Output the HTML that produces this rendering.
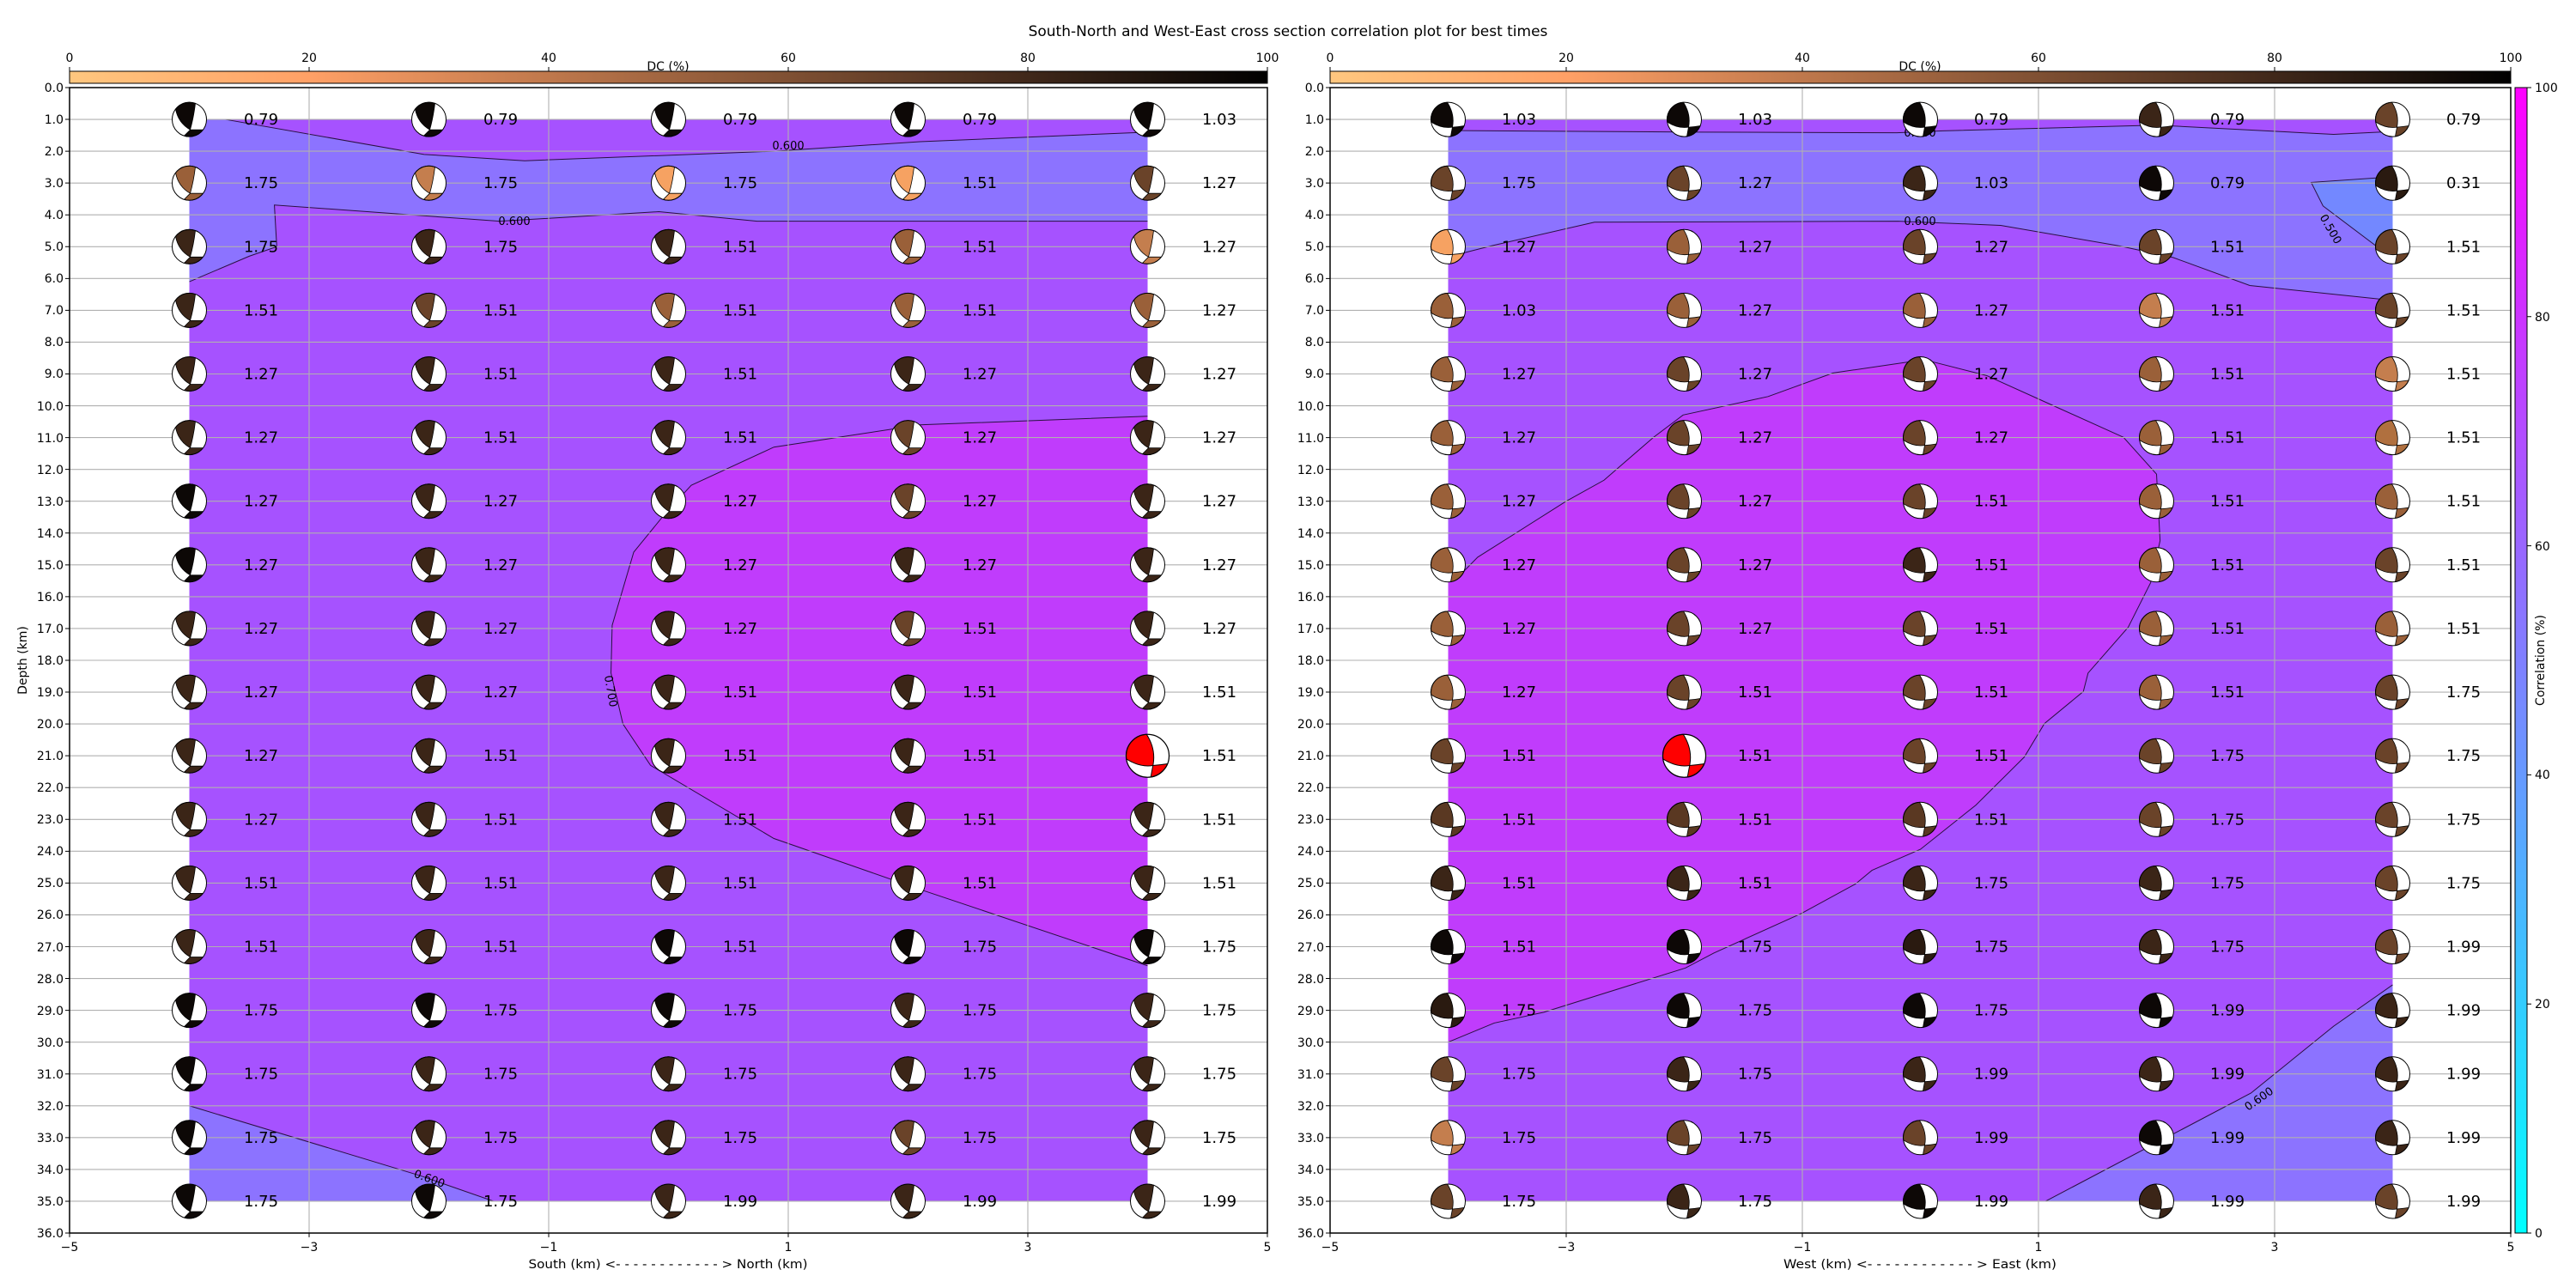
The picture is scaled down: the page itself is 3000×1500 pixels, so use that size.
<!DOCTYPE html>
<html><head><meta charset="utf-8"><style>html,body{margin:0;padding:0;background:#fff}svg{display:block}</style></head>
<body>
<svg xmlns="http://www.w3.org/2000/svg" xmlns:xlink="http://www.w3.org/1999/xlink" width="3000" height="1500" viewBox="0 0 3000 1500" font-family="DejaVu Sans, Liberation Sans, sans-serif">
<defs>
<linearGradient id="cop" x1="0" x2="1" y1="0" y2="0">
<stop offset="0" stop-color="#ffc77f"/><stop offset="0.2" stop-color="#ffa066"/><stop offset="0.4" stop-color="#bf784c"/><stop offset="0.6" stop-color="#7f5033"/><stop offset="0.8" stop-color="#40281a"/><stop offset="1" stop-color="#000"/>
</linearGradient>
<linearGradient id="cool" x1="0" x2="0" y1="0" y2="1">
<stop offset="0" stop-color="#ff00ff"/><stop offset="1" stop-color="#00ffff"/>
</linearGradient>
<g id="bl">
<circle r="20" fill="#fff"/>
<path fill="currentColor" stroke="#000" stroke-width="0.8" d="M-16,-12 A20,20 0 0 1 7,-18.7 Q5,-2 1,12 Q-13,4 -16,-12Z"/>
<path fill="currentColor" stroke="#000" stroke-width="0.8" d="M1,12 Q9,12 16,12 A20,20 0 0 1 -6,19.1 Q-2,15 1,12Z"/>
<circle r="20" fill="none" stroke="#000" stroke-width="1"/>
</g>
<g id="br">
<circle r="20" fill="#fff"/>
<path fill="currentColor" stroke="#000" stroke-width="0.8" d="M-19.8,3 A20,20 0 0 1 -1,-20 Q8,-6 5,9 Q-7,11 -19.8,3Z"/>
<path fill="currentColor" stroke="#000" stroke-width="0.8" d="M5,9 Q12,8.5 18.6,7.4 A20,20 0 0 1 3,19.8 Q4,14 5,9Z"/>
<circle r="20" fill="none" stroke="#000" stroke-width="1"/>
</g>
</defs>

<text x="1500" y="42" font-size="17" text-anchor="middle">South-North and West-East cross section correlation plot for best times</text>

<rect x="81" y="83" width="1395" height="14" fill="url(#cop)" stroke="#000" stroke-width="1"/>
<rect x="1549" y="83" width="1375" height="14" fill="url(#cop)" stroke="#000" stroke-width="1"/>
<g stroke="#000" stroke-width="1">
<path d="M81 83V78M360 83V78M639 83V78M918 83V78M1197 83V78M1476 83V78"/>
<path d="M1549 83V78M1824 83V78M2099 83V78M2374 83V78M2649 83V78M2924 83V78"/>
</g>
<g font-size="14" text-anchor="middle">
<text x="81" y="72">0</text><text x="360" y="72">20</text><text x="639" y="72">40</text><text x="918" y="72">60</text><text x="1197" y="72">80</text><text x="1476" y="72">100</text>
<text x="1549" y="72">0</text><text x="1824" y="72">20</text><text x="2099" y="72">40</text><text x="2374" y="72">60</text><text x="2649" y="72">80</text><text x="2924" y="72">100</text>
<text x="778" y="82">DC (%)</text><text x="2236" y="82">DC (%)</text>
</g>

<rect x="2929" y="102" width="14" height="1334" fill="url(#cool)" stroke="#000" stroke-width="1"/>
<path stroke="#000" stroke-width="1" d="M2943 102H2948M2943 368.8H2948M2943 635.6H2948M2943 902.4H2948M2943 1169.2H2948M2943 1436H2948"/>
<g font-size="14">
<text x="2952" y="107">100</text><text x="2952" y="374">80</text><text x="2952" y="641">60</text><text x="2952" y="907">40</text><text x="2952" y="1174">20</text><text x="2952" y="1441">0</text>
</g>
<text transform="translate(2963,769) rotate(-90)" font-size="14" text-anchor="middle">Correlation (%)</text>

<svg x="81" y="102" width="1395" height="1334" viewBox="-5 0 10 36" preserveAspectRatio="none" style="overflow:visible">
<rect x="-4" y="1" width="8" height="34" fill="#a652ff"/>
<polygon fill="#8c73ff" points="-4,1 -3.7,1 -2.04,2.1 -1.2,2.3 0.88,2.0 2.1,1.7 4,1.4 4,4.2 0.74,4.2 -0.08,3.9 -1.41,4.2 -3.29,3.69 -3.27,5.0 -3.5,5.3 -4,6.1"/>
<polygon fill="#8c73ff" points="-4,32 -2.07,34.2 -1.46,35 -4,35"/>
<polygon fill="#c03cfc" points="4,10.33 2.1,10.6 0.88,11.3 0.19,12.5 -0.03,13.4 -0.29,14.6 -0.47,16.9 -0.48,18.4 -0.38,20.0 -0.15,21.3 0.88,23.6 2.1,25.2 4,27.6"/>
<g fill="none" stroke="#2a1040" stroke-width="1">
<polyline vector-effect="non-scaling-stroke" points="-3.7,1 -2.04,2.1 -1.2,2.3 0.88,2.0 2.1,1.7 4,1.4"/>
<polyline vector-effect="non-scaling-stroke" points="4,4.2 0.74,4.2 -0.08,3.9 -1.41,4.2 -3.29,3.69 -3.27,5.0 -3.5,5.3 -4,6.1"/>
<polyline vector-effect="non-scaling-stroke" points="-4,32 -2.07,34.2 -1.46,35"/>
<polyline vector-effect="non-scaling-stroke" points="4,10.33 2.1,10.6 0.88,11.3 0.19,12.5 -0.03,13.4 -0.29,14.6 -0.47,16.9 -0.48,18.4 -0.38,20.0 -0.15,21.3 0.88,23.6 2.1,25.2 4,27.6"/>
</g>
<path fill="none" stroke="#b0b0b0" stroke-width="1.1" vector-effect="non-scaling-stroke" d="M-5 1H5M-5 2H5M-5 3H5M-5 4H5M-5 5H5M-5 6H5M-5 7H5M-5 8H5M-5 9H5M-5 10H5M-5 11H5M-5 12H5M-5 13H5M-5 14H5M-5 15H5M-5 16H5M-5 17H5M-5 18H5M-5 19H5M-5 20H5M-5 21H5M-5 22H5M-5 23H5M-5 24H5M-5 25H5M-5 26H5M-5 27H5M-5 28H5M-5 29H5M-5 30H5M-5 31H5M-5 32H5M-5 33H5M-5 34H5M-5 35H5M-3 0V36M-1 0V36M1 0V36M3 0V36"/>
<path fill="none" stroke="#000" stroke-width="1" vector-effect="non-scaling-stroke" d="M-5.036 0H-5M-5.036 1H-5M-5.036 2H-5M-5.036 3H-5M-5.036 4H-5M-5.036 5H-5M-5.036 6H-5M-5.036 7H-5M-5.036 8H-5M-5.036 9H-5M-5.036 10H-5M-5.036 11H-5M-5.036 12H-5M-5.036 13H-5M-5.036 14H-5M-5.036 15H-5M-5.036 16H-5M-5.036 17H-5M-5.036 18H-5M-5.036 19H-5M-5.036 20H-5M-5.036 21H-5M-5.036 22H-5M-5.036 23H-5M-5.036 24H-5M-5.036 25H-5M-5.036 26H-5M-5.036 27H-5M-5.036 28H-5M-5.036 29H-5M-5.036 30H-5M-5.036 31H-5M-5.036 32H-5M-5.036 33H-5M-5.036 34H-5M-5.036 35H-5M-5.036 36H-5M-5 36V36.13M-3 36V36.13M-1 36V36.13M1 36V36.13M3 36V36.13M5 36V36.13"/>
</svg>
<rect x="81" y="102" width="1395" height="1334" fill="none" stroke="#000" stroke-width="1.5"/>

<svg x="1549" y="102" width="1375" height="1334" viewBox="-5 0 10 36" preserveAspectRatio="none" style="overflow:visible">
<rect x="-4" y="1" width="8" height="34" fill="#a652ff"/>
<polygon fill="#8c73ff" points="-4,1.35 -1.88,1.40 -0.2,1.42 0.19,1.36 2,1.18 3.5,1.47 4,1.38 4,6.69 2.79,6.22 2.14,5.34 1.69,4.98 0.68,4.33 -0.19,4.2 -2.76,4.23 -3.64,4.98 -4,5.32"/>
<polygon fill="#7388ff" points="3.31,2.98 3.86,2.84 4,2.84 4,4.98 3.86,4.98 3.41,3.72"/>
<polygon fill="#8c73ff" points="1.06,35 2.8,31.6 3.5,29.5 4,28.2 4,35"/>
<polygon fill="#c03cfc" points="-4,30.0 -3.61,29.4 -3.19,29.06 -1.99,27.67 -1.75,27.2 -1.01,25.96 -0.55,25.03 -0.41,24.6 0,23.94 0.47,22.55 0.88,21.04 1.05,19.99 1.38,18.98 1.42,18.4 1.76,16.96 1.95,15.56 2.03,14.24 2.0,12.15 1.72,10.99 1.02,9.82 0.56,9.05 0.03,8.55 -0.74,8.97 -1.29,9.71 -2.01,10.29 -2.26,10.99 -2.68,12.34 -3.0,13.0 -3.75,14.76 -3.88,15.25 -4,15.3"/>
<g fill="none" stroke="#2a1040" stroke-width="1">
<polyline vector-effect="non-scaling-stroke" points="-4,1.35 -1.88,1.40 -0.2,1.42 0.19,1.36 2,1.18 3.5,1.47 4,1.38"/>
<polyline vector-effect="non-scaling-stroke" points="4,6.69 2.79,6.22 2.14,5.34 1.69,4.98 0.68,4.33 -0.19,4.2 -2.76,4.23 -3.64,4.98 -4,5.32"/>
<polyline vector-effect="non-scaling-stroke" points="3.86,2.84 3.31,2.98 3.41,3.72 3.86,4.98"/>
<polyline vector-effect="non-scaling-stroke" points="1.06,35 2.8,31.6 3.5,29.5 4,28.2"/>
<polyline vector-effect="non-scaling-stroke" points="-4,30.0 -3.61,29.4 -3.19,29.06 -1.99,27.67 -1.75,27.2 -1.01,25.96 -0.55,25.03 -0.41,24.6 0,23.94 0.47,22.55 0.88,21.04 1.05,19.99 1.38,18.98 1.42,18.4 1.76,16.96 1.95,15.56 2.03,14.24 2.0,12.15 1.72,10.99 1.02,9.82 0.56,9.05 0.03,8.55 -0.74,8.97 -1.29,9.71 -2.01,10.29 -2.26,10.99 -2.68,12.34 -3.0,13.0 -3.75,14.76 -3.88,15.25 -4,15.3"/>
</g>
<path fill="none" stroke="#b0b0b0" stroke-width="1.1" vector-effect="non-scaling-stroke" d="M-5 1H5M-5 2H5M-5 3H5M-5 4H5M-5 5H5M-5 6H5M-5 7H5M-5 8H5M-5 9H5M-5 10H5M-5 11H5M-5 12H5M-5 13H5M-5 14H5M-5 15H5M-5 16H5M-5 17H5M-5 18H5M-5 19H5M-5 20H5M-5 21H5M-5 22H5M-5 23H5M-5 24H5M-5 25H5M-5 26H5M-5 27H5M-5 28H5M-5 29H5M-5 30H5M-5 31H5M-5 32H5M-5 33H5M-5 34H5M-5 35H5M-3 0V36M-1 0V36M1 0V36M3 0V36"/>
<path fill="none" stroke="#000" stroke-width="1" vector-effect="non-scaling-stroke" d="M-5.036 0H-5M-5.036 1H-5M-5.036 2H-5M-5.036 3H-5M-5.036 4H-5M-5.036 5H-5M-5.036 6H-5M-5.036 7H-5M-5.036 8H-5M-5.036 9H-5M-5.036 10H-5M-5.036 11H-5M-5.036 12H-5M-5.036 13H-5M-5.036 14H-5M-5.036 15H-5M-5.036 16H-5M-5.036 17H-5M-5.036 18H-5M-5.036 19H-5M-5.036 20H-5M-5.036 21H-5M-5.036 22H-5M-5.036 23H-5M-5.036 24H-5M-5.036 25H-5M-5.036 26H-5M-5.036 27H-5M-5.036 28H-5M-5.036 29H-5M-5.036 30H-5M-5.036 31H-5M-5.036 32H-5M-5.036 33H-5M-5.036 34H-5M-5.036 35H-5M-5.036 36H-5M-5 36V36.13M-3 36V36.13M-1 36V36.13M1 36V36.13M3 36V36.13M5 36V36.13"/>
</svg>
<rect x="1549" y="102" width="1375" height="1334" fill="none" stroke="#000" stroke-width="1.5"/>

<g font-size="13" text-anchor="middle" fill="#000">
<text x="918" y="174">0.600</text>
<text x="599" y="262">0.600</text>
<text transform="translate(711,805) rotate(80)" y="4">0.700</text>
<text transform="translate(500,1373) rotate(20)" y="4">0.600</text>
<text x="2236" y="159">0.600</text>
<text x="2236" y="262">0.600</text>
<text transform="translate(2714,267) rotate(60)" y="4">0.500</text>
<text transform="translate(2631,1280) rotate(-35)" y="4">0.600</text>
</g>

<g font-size="14" text-anchor="end">
<text x="74" y="107">0.0</text><text x="74" y="144">1.0</text><text x="74" y="181">2.0</text><text x="74" y="218">3.0</text><text x="74" y="255">4.0</text><text x="74" y="292">5.0</text><text x="74" y="329">6.0</text><text x="74" y="366">7.0</text><text x="74" y="403">8.0</text><text x="74" y="440">9.0</text><text x="74" y="478">10.0</text><text x="74" y="515">11.0</text><text x="74" y="552">12.0</text><text x="74" y="589">13.0</text><text x="74" y="626">14.0</text><text x="74" y="663">15.0</text><text x="74" y="700">16.0</text><text x="74" y="737">17.0</text><text x="74" y="774">18.0</text><text x="74" y="811">19.0</text><text x="74" y="848">20.0</text><text x="74" y="885">21.0</text><text x="74" y="922">22.0</text><text x="74" y="959">23.0</text><text x="74" y="996">24.0</text><text x="74" y="1033">25.0</text><text x="74" y="1070">26.0</text><text x="74" y="1108">27.0</text><text x="74" y="1145">28.0</text><text x="74" y="1182">29.0</text><text x="74" y="1219">30.0</text><text x="74" y="1256">31.0</text><text x="74" y="1293">32.0</text><text x="74" y="1330">33.0</text><text x="74" y="1367">34.0</text><text x="74" y="1404">35.0</text><text x="74" y="1441">36.0</text>
</g>
<g font-size="14" text-anchor="end">
<text x="1542" y="107">0.0</text><text x="1542" y="144">1.0</text><text x="1542" y="181">2.0</text><text x="1542" y="218">3.0</text><text x="1542" y="255">4.0</text><text x="1542" y="292">5.0</text><text x="1542" y="329">6.0</text><text x="1542" y="366">7.0</text><text x="1542" y="403">8.0</text><text x="1542" y="440">9.0</text><text x="1542" y="478">10.0</text><text x="1542" y="515">11.0</text><text x="1542" y="552">12.0</text><text x="1542" y="589">13.0</text><text x="1542" y="626">14.0</text><text x="1542" y="663">15.0</text><text x="1542" y="700">16.0</text><text x="1542" y="737">17.0</text><text x="1542" y="774">18.0</text><text x="1542" y="811">19.0</text><text x="1542" y="848">20.0</text><text x="1542" y="885">21.0</text><text x="1542" y="922">22.0</text><text x="1542" y="959">23.0</text><text x="1542" y="996">24.0</text><text x="1542" y="1033">25.0</text><text x="1542" y="1070">26.0</text><text x="1542" y="1108">27.0</text><text x="1542" y="1145">28.0</text><text x="1542" y="1182">29.0</text><text x="1542" y="1219">30.0</text><text x="1542" y="1256">31.0</text><text x="1542" y="1293">32.0</text><text x="1542" y="1330">33.0</text><text x="1542" y="1367">34.0</text><text x="1542" y="1404">35.0</text><text x="1542" y="1441">36.0</text>
</g>

<g font-size="14" text-anchor="middle">
<text x="81" y="1457">−5</text><text x="360" y="1457">−3</text><text x="639" y="1457">−1</text><text x="918" y="1457">1</text><text x="1197" y="1457">3</text><text x="1476" y="1457">5</text>
<text x="1549" y="1457">−5</text><text x="1824" y="1457">−3</text><text x="2099" y="1457">−1</text><text x="2374" y="1457">1</text><text x="2649" y="1457">3</text><text x="2924" y="1457">5</text>
<text x="778" y="1477" textLength="325" lengthAdjust="spacingAndGlyphs">South (km) &lt;- - - - - - - - - - - - &gt; North (km)</text>
<text x="2236" y="1477" textLength="318" lengthAdjust="spacingAndGlyphs">West (km) &lt;- - - - - - - - - - - - &gt; East (km)</text>
</g>
<text transform="translate(31,769) rotate(-90)" font-size="14" text-anchor="middle">Depth (km)</text>

<g font-size="18" text-anchor="middle">
<g transform="translate(0,139.1)"><use href="#bl" x="220.5" color="#0d0806"/><use href="#bl" x="499.5" color="#0d0806"/><use href="#bl" x="778.5" color="#0d0806"/><use href="#bl" x="1057.5" color="#0d0806"/><use href="#bl" x="1336.5" color="#0d0806"/><text x="304" y="6">0.79</text><text x="583" y="6">0.79</text><text x="862" y="6">0.79</text><text x="1141" y="6">0.79</text><text x="1420" y="6">1.03</text></g>
<g transform="translate(0,213.2)"><use href="#bl" x="220.5" color="#9a6039"/><use href="#bl" x="499.5" color="#c47e4e"/><use href="#bl" x="778.5" color="#f6a262"/><use href="#bl" x="1057.5" color="#f6a262"/><use href="#bl" x="1336.5" color="#6a4329"/><text x="304" y="6">1.75</text><text x="583" y="6">1.75</text><text x="862" y="6">1.75</text><text x="1141" y="6">1.51</text><text x="1420" y="6">1.27</text></g>
<g transform="translate(0,287.3)"><use href="#bl" x="220.5" color="#3b2517"/><use href="#bl" x="499.5" color="#3b2517"/><use href="#bl" x="778.5" color="#3b2517"/><use href="#bl" x="1057.5" color="#9a6039"/><use href="#bl" x="1336.5" color="#c47e4e"/><text x="304" y="6">1.75</text><text x="583" y="6">1.75</text><text x="862" y="6">1.51</text><text x="1141" y="6">1.51</text><text x="1420" y="6">1.27</text></g>
<g transform="translate(0,361.4)"><use href="#bl" x="220.5" color="#3b2517"/><use href="#bl" x="499.5" color="#6a4329"/><use href="#bl" x="778.5" color="#9a6039"/><use href="#bl" x="1057.5" color="#9a6039"/><use href="#bl" x="1336.5" color="#9a6039"/><text x="304" y="6">1.51</text><text x="583" y="6">1.51</text><text x="862" y="6">1.51</text><text x="1141" y="6">1.51</text><text x="1420" y="6">1.27</text></g>
<g transform="translate(0,435.5)"><use href="#bl" x="220.5" color="#3b2517"/><use href="#bl" x="499.5" color="#3b2517"/><use href="#bl" x="778.5" color="#3b2517"/><use href="#bl" x="1057.5" color="#3b2517"/><use href="#bl" x="1336.5" color="#3b2517"/><text x="304" y="6">1.27</text><text x="583" y="6">1.51</text><text x="862" y="6">1.51</text><text x="1141" y="6">1.27</text><text x="1420" y="6">1.27</text></g>
<g transform="translate(0,509.6)"><use href="#bl" x="220.5" color="#3b2517"/><use href="#bl" x="499.5" color="#3b2517"/><use href="#bl" x="778.5" color="#3b2517"/><use href="#bl" x="1057.5" color="#6a4329"/><use href="#bl" x="1336.5" color="#3b2517"/><text x="304" y="6">1.27</text><text x="583" y="6">1.51</text><text x="862" y="6">1.51</text><text x="1141" y="6">1.27</text><text x="1420" y="6">1.27</text></g>
<g transform="translate(0,583.7)"><use href="#bl" x="220.5" color="#0d0806"/><use href="#bl" x="499.5" color="#3b2517"/><use href="#bl" x="778.5" color="#3b2517"/><use href="#bl" x="1057.5" color="#6a4329"/><use href="#bl" x="1336.5" color="#3b2517"/><text x="304" y="6">1.27</text><text x="583" y="6">1.27</text><text x="862" y="6">1.27</text><text x="1141" y="6">1.27</text><text x="1420" y="6">1.27</text></g>
<g transform="translate(0,657.8)"><use href="#bl" x="220.5" color="#0d0806"/><use href="#bl" x="499.5" color="#3b2517"/><use href="#bl" x="778.5" color="#3b2517"/><use href="#bl" x="1057.5" color="#3b2517"/><use href="#bl" x="1336.5" color="#3b2517"/><text x="304" y="6">1.27</text><text x="583" y="6">1.27</text><text x="862" y="6">1.27</text><text x="1141" y="6">1.27</text><text x="1420" y="6">1.27</text></g>
<g transform="translate(0,731.9)"><use href="#bl" x="220.5" color="#3b2517"/><use href="#bl" x="499.5" color="#3b2517"/><use href="#bl" x="778.5" color="#3b2517"/><use href="#bl" x="1057.5" color="#6a4329"/><use href="#bl" x="1336.5" color="#3b2517"/><text x="304" y="6">1.27</text><text x="583" y="6">1.27</text><text x="862" y="6">1.27</text><text x="1141" y="6">1.51</text><text x="1420" y="6">1.27</text></g>
<g transform="translate(0,806.1)"><use href="#bl" x="220.5" color="#3b2517"/><use href="#bl" x="499.5" color="#3b2517"/><use href="#bl" x="778.5" color="#3b2517"/><use href="#bl" x="1057.5" color="#3b2517"/><use href="#bl" x="1336.5" color="#3b2517"/><text x="304" y="6">1.27</text><text x="583" y="6">1.27</text><text x="862" y="6">1.51</text><text x="1141" y="6">1.51</text><text x="1420" y="6">1.51</text></g>
<g transform="translate(0,880.2)"><use href="#bl" x="220.5" color="#3b2517"/><use href="#bl" x="499.5" color="#3b2517"/><use href="#bl" x="778.5" color="#3b2517"/><use href="#bl" x="1057.5" color="#3b2517"/><use href="#br" transform="translate(1336.5,0) scale(1.25)" color="#ff0000"/><text x="304" y="6">1.27</text><text x="583" y="6">1.51</text><text x="862" y="6">1.51</text><text x="1141" y="6">1.51</text><text x="1420" y="6">1.51</text></g>
<g transform="translate(0,954.3)"><use href="#bl" x="220.5" color="#3b2517"/><use href="#bl" x="499.5" color="#3b2517"/><use href="#bl" x="778.5" color="#3b2517"/><use href="#bl" x="1057.5" color="#3b2517"/><use href="#bl" x="1336.5" color="#3b2517"/><text x="304" y="6">1.27</text><text x="583" y="6">1.51</text><text x="862" y="6">1.51</text><text x="1141" y="6">1.51</text><text x="1420" y="6">1.51</text></g>
<g transform="translate(0,1028.4)"><use href="#bl" x="220.5" color="#3b2517"/><use href="#bl" x="499.5" color="#3b2517"/><use href="#bl" x="778.5" color="#3b2517"/><use href="#bl" x="1057.5" color="#3b2517"/><use href="#bl" x="1336.5" color="#3b2517"/><text x="304" y="6">1.51</text><text x="583" y="6">1.51</text><text x="862" y="6">1.51</text><text x="1141" y="6">1.51</text><text x="1420" y="6">1.51</text></g>
<g transform="translate(0,1102.5)"><use href="#bl" x="220.5" color="#3b2517"/><use href="#bl" x="499.5" color="#3b2517"/><use href="#bl" x="778.5" color="#0d0806"/><use href="#bl" x="1057.5" color="#0d0806"/><use href="#bl" x="1336.5" color="#0d0806"/><text x="304" y="6">1.51</text><text x="583" y="6">1.51</text><text x="862" y="6">1.51</text><text x="1141" y="6">1.75</text><text x="1420" y="6">1.75</text></g>
<g transform="translate(0,1176.6)"><use href="#bl" x="220.5" color="#0d0806"/><use href="#bl" x="499.5" color="#0d0806"/><use href="#bl" x="778.5" color="#0d0806"/><use href="#bl" x="1057.5" color="#3b2517"/><use href="#bl" x="1336.5" color="#3b2517"/><text x="304" y="6">1.75</text><text x="583" y="6">1.75</text><text x="862" y="6">1.75</text><text x="1141" y="6">1.75</text><text x="1420" y="6">1.75</text></g>
<g transform="translate(0,1250.7)"><use href="#bl" x="220.5" color="#0d0806"/><use href="#bl" x="499.5" color="#3b2517"/><use href="#bl" x="778.5" color="#3b2517"/><use href="#bl" x="1057.5" color="#3b2517"/><use href="#bl" x="1336.5" color="#3b2517"/><text x="304" y="6">1.75</text><text x="583" y="6">1.75</text><text x="862" y="6">1.75</text><text x="1141" y="6">1.75</text><text x="1420" y="6">1.75</text></g>
<g transform="translate(0,1324.8)"><use href="#bl" x="220.5" color="#0d0806"/><use href="#bl" x="499.5" color="#3b2517"/><use href="#bl" x="778.5" color="#3b2517"/><use href="#bl" x="1057.5" color="#6a4329"/><use href="#bl" x="1336.5" color="#3b2517"/><text x="304" y="6">1.75</text><text x="583" y="6">1.75</text><text x="862" y="6">1.75</text><text x="1141" y="6">1.75</text><text x="1420" y="6">1.75</text></g>
<g transform="translate(0,1399)"><use href="#bl" x="220.5" color="#0d0806"/><use href="#bl" x="499.5" color="#0d0806"/><use href="#bl" x="778.5" color="#3b2517"/><use href="#bl" x="1057.5" color="#3b2517"/><use href="#bl" x="1336.5" color="#3b2517"/><text x="304" y="6">1.75</text><text x="583" y="6">1.75</text><text x="862" y="6">1.99</text><text x="1141" y="6">1.99</text><text x="1420" y="6">1.99</text></g>
</g>

<g font-size="18" text-anchor="middle">
<g transform="translate(0,139.1)"><use href="#br" x="1686.5" color="#0d0806"/><use href="#br" x="1961.5" color="#0d0806"/><use href="#br" x="2236.5" color="#0d0806"/><use href="#br" x="2511.5" color="#3b2517"/><use href="#br" x="2786.5" color="#6a4329"/><text x="1769" y="6">1.03</text><text x="2044" y="6">1.03</text><text x="2319" y="6">0.79</text><text x="2594" y="6">0.79</text><text x="2869" y="6">0.79</text></g>
<g transform="translate(0,213.2)"><use href="#br" x="1686.5" color="#6a4329"/><use href="#br" x="1961.5" color="#6a4329"/><use href="#br" x="2236.5" color="#3b2517"/><use href="#br" x="2511.5" color="#0d0806"/><use href="#br" x="2786.5" color="#2a1a10"/><text x="1769" y="6">1.75</text><text x="2044" y="6">1.27</text><text x="2319" y="6">1.03</text><text x="2594" y="6">0.79</text><text x="2869" y="6">0.31</text></g>
<g transform="translate(0,287.3)"><use href="#br" x="1686.5" color="#f6a262"/><use href="#br" x="1961.5" color="#9a6039"/><use href="#br" x="2236.5" color="#6a4329"/><use href="#br" x="2511.5" color="#6a4329"/><use href="#br" x="2786.5" color="#6a4329"/><text x="1769" y="6">1.27</text><text x="2044" y="6">1.27</text><text x="2319" y="6">1.27</text><text x="2594" y="6">1.51</text><text x="2869" y="6">1.51</text></g>
<g transform="translate(0,361.4)"><use href="#br" x="1686.5" color="#9a6039"/><use href="#br" x="1961.5" color="#9a6039"/><use href="#br" x="2236.5" color="#9a6039"/><use href="#br" x="2511.5" color="#c47e4e"/><use href="#br" x="2786.5" color="#6a4329"/><text x="1769" y="6">1.03</text><text x="2044" y="6">1.27</text><text x="2319" y="6">1.27</text><text x="2594" y="6">1.51</text><text x="2869" y="6">1.51</text></g>
<g transform="translate(0,435.5)"><use href="#br" x="1686.5" color="#9a6039"/><use href="#br" x="1961.5" color="#6a4329"/><use href="#br" x="2236.5" color="#6a4329"/><use href="#br" x="2511.5" color="#9a6039"/><use href="#br" x="2786.5" color="#c47e4e"/><text x="1769" y="6">1.27</text><text x="2044" y="6">1.27</text><text x="2319" y="6">1.27</text><text x="2594" y="6">1.51</text><text x="2869" y="6">1.51</text></g>
<g transform="translate(0,509.6)"><use href="#br" x="1686.5" color="#9a6039"/><use href="#br" x="1961.5" color="#6a4329"/><use href="#br" x="2236.5" color="#6a4329"/><use href="#br" x="2511.5" color="#9a6039"/><use href="#br" x="2786.5" color="#b0703f"/><text x="1769" y="6">1.27</text><text x="2044" y="6">1.27</text><text x="2319" y="6">1.27</text><text x="2594" y="6">1.51</text><text x="2869" y="6">1.51</text></g>
<g transform="translate(0,583.7)"><use href="#br" x="1686.5" color="#9a6039"/><use href="#br" x="1961.5" color="#6a4329"/><use href="#br" x="2236.5" color="#6a4329"/><use href="#br" x="2511.5" color="#9a6039"/><use href="#br" x="2786.5" color="#9a6039"/><text x="1769" y="6">1.27</text><text x="2044" y="6">1.27</text><text x="2319" y="6">1.51</text><text x="2594" y="6">1.51</text><text x="2869" y="6">1.51</text></g>
<g transform="translate(0,657.8)"><use href="#br" x="1686.5" color="#9a6039"/><use href="#br" x="1961.5" color="#6a4329"/><use href="#br" x="2236.5" color="#3b2517"/><use href="#br" x="2511.5" color="#9a6039"/><use href="#br" x="2786.5" color="#6a4329"/><text x="1769" y="6">1.27</text><text x="2044" y="6">1.27</text><text x="2319" y="6">1.51</text><text x="2594" y="6">1.51</text><text x="2869" y="6">1.51</text></g>
<g transform="translate(0,731.9)"><use href="#br" x="1686.5" color="#9a6039"/><use href="#br" x="1961.5" color="#6a4329"/><use href="#br" x="2236.5" color="#6a4329"/><use href="#br" x="2511.5" color="#9a6039"/><use href="#br" x="2786.5" color="#9a6039"/><text x="1769" y="6">1.27</text><text x="2044" y="6">1.27</text><text x="2319" y="6">1.51</text><text x="2594" y="6">1.51</text><text x="2869" y="6">1.51</text></g>
<g transform="translate(0,806.1)"><use href="#br" x="1686.5" color="#9a6039"/><use href="#br" x="1961.5" color="#6a4329"/><use href="#br" x="2236.5" color="#6a4329"/><use href="#br" x="2511.5" color="#9a6039"/><use href="#br" x="2786.5" color="#6a4329"/><text x="1769" y="6">1.27</text><text x="2044" y="6">1.51</text><text x="2319" y="6">1.51</text><text x="2594" y="6">1.51</text><text x="2869" y="6">1.75</text></g>
<g transform="translate(0,880.2)"><use href="#br" x="1686.5" color="#6a4329"/><use href="#br" transform="translate(1961.5,0) scale(1.25)" color="#ff0000"/><use href="#br" x="2236.5" color="#6a4329"/><use href="#br" x="2511.5" color="#6a4329"/><use href="#br" x="2786.5" color="#6a4329"/><text x="1769" y="6">1.51</text><text x="2044" y="6">1.51</text><text x="2319" y="6">1.51</text><text x="2594" y="6">1.75</text><text x="2869" y="6">1.75</text></g>
<g transform="translate(0,954.3)"><use href="#br" x="1686.5" color="#5a3822"/><use href="#br" x="1961.5" color="#5a3822"/><use href="#br" x="2236.5" color="#5a3822"/><use href="#br" x="2511.5" color="#6a4329"/><use href="#br" x="2786.5" color="#6a4329"/><text x="1769" y="6">1.51</text><text x="2044" y="6">1.51</text><text x="2319" y="6">1.51</text><text x="2594" y="6">1.75</text><text x="2869" y="6">1.75</text></g>
<g transform="translate(0,1028.4)"><use href="#br" x="1686.5" color="#3b2517"/><use href="#br" x="1961.5" color="#3b2517"/><use href="#br" x="2236.5" color="#3b2517"/><use href="#br" x="2511.5" color="#3b2517"/><use href="#br" x="2786.5" color="#6a4329"/><text x="1769" y="6">1.51</text><text x="2044" y="6">1.51</text><text x="2319" y="6">1.75</text><text x="2594" y="6">1.75</text><text x="2869" y="6">1.75</text></g>
<g transform="translate(0,1102.5)"><use href="#br" x="1686.5" color="#0d0806"/><use href="#br" x="1961.5" color="#0d0806"/><use href="#br" x="2236.5" color="#2a1a10"/><use href="#br" x="2511.5" color="#3b2517"/><use href="#br" x="2786.5" color="#6a4329"/><text x="1769" y="6">1.51</text><text x="2044" y="6">1.75</text><text x="2319" y="6">1.75</text><text x="2594" y="6">1.75</text><text x="2869" y="6">1.99</text></g>
<g transform="translate(0,1176.6)"><use href="#br" x="1686.5" color="#2a1a10"/><use href="#br" x="1961.5" color="#0d0806"/><use href="#br" x="2236.5" color="#0d0806"/><use href="#br" x="2511.5" color="#0d0806"/><use href="#br" x="2786.5" color="#3b2517"/><text x="1769" y="6">1.75</text><text x="2044" y="6">1.75</text><text x="2319" y="6">1.75</text><text x="2594" y="6">1.99</text><text x="2869" y="6">1.99</text></g>
<g transform="translate(0,1250.7)"><use href="#br" x="1686.5" color="#6a4329"/><use href="#br" x="1961.5" color="#3b2517"/><use href="#br" x="2236.5" color="#3b2517"/><use href="#br" x="2511.5" color="#3b2517"/><use href="#br" x="2786.5" color="#3b2517"/><text x="1769" y="6">1.75</text><text x="2044" y="6">1.75</text><text x="2319" y="6">1.99</text><text x="2594" y="6">1.99</text><text x="2869" y="6">1.99</text></g>
<g transform="translate(0,1324.8)"><use href="#br" x="1686.5" color="#c47e4e"/><use href="#br" x="1961.5" color="#6a4329"/><use href="#br" x="2236.5" color="#6a4329"/><use href="#br" x="2511.5" color="#0d0806"/><use href="#br" x="2786.5" color="#3b2517"/><text x="1769" y="6">1.75</text><text x="2044" y="6">1.75</text><text x="2319" y="6">1.99</text><text x="2594" y="6">1.99</text><text x="2869" y="6">1.99</text></g>
<g transform="translate(0,1399)"><use href="#br" x="1686.5" color="#6a4329"/><use href="#br" x="1961.5" color="#3b2517"/><use href="#br" x="2236.5" color="#0d0806"/><use href="#br" x="2511.5" color="#3b2517"/><use href="#br" x="2786.5" color="#6a4329"/><text x="1769" y="6">1.75</text><text x="2044" y="6">1.75</text><text x="2319" y="6">1.99</text><text x="2594" y="6">1.99</text><text x="2869" y="6">1.99</text></g>
</g>
</svg>
</body></html>
